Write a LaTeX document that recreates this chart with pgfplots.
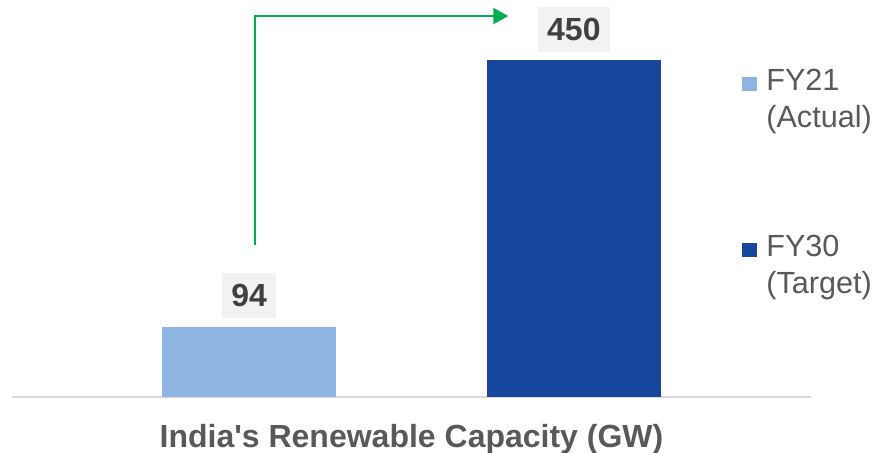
\documentclass[border=0pt]{standalone}
\usepackage{fontspec}
\setmainfont{Liberation Sans}
\usepackage{pgfplots}
\pgfplotsset{compat=1.18}
\usetikzlibrary{arrows.meta}

\definecolor{fyactual}{HTML}{8EB4E3}
\definecolor{fytarget}{HTML}{17479C}
\definecolor{arrowgreen}{HTML}{00B050}
\definecolor{labelbg}{HTML}{F2F2F2}
\definecolor{labeltext}{HTML}{404040}
\definecolor{softtext}{HTML}{595959}
\definecolor{baseline}{HTML}{D9D9D9}

\begin{document}
\begin{tikzpicture}
  \useasboundingbox (0,0) rectangle (439.5pt,226.5pt);
  \begin{axis}[
      at={(6pt,28pt)}, anchor=south west,
      scale only axis,
      width=399.5pt, height=168.5pt,
      xmin=-0.73, xmax=1.73,
      ymin=0, ymax=450,
      axis x line*=bottom,
      axis y line=none,
      x axis line style={-, draw=baseline, line width=0.75pt},
      xtick=\empty, ytick=\empty,
      clip=false,
      bar width=87pt,
      /pgf/number format/assume math mode=true,
      nodes near coords,
      every node near coord/.append style={
          font=\fontsize{16}{19}\selectfont\bfseries,
          text=labeltext, fill=labelbg,
          anchor=south, yshift=4pt,
          inner xsep=4.5pt, inner ysep=0pt, minimum height=22.5pt},
      xlabel={India\textquotesingle s Renewable Capacity (GW)},
      xlabel style={font=\fontsize{16}{19}\selectfont\bfseries, text=softtext,
          anchor=base, at={(axis description cs:0.5,0)}, yshift=-25.5pt},
      legend style={at={(axis description cs:0.9136,0.974)}, anchor=north west,
          draw=none, fill=none, inner sep=0pt,
          font=\fontsize{15.3}{18.5}\selectfont, text=softtext,
          nodes={align=left, inner sep=0pt},
          row sep=52.5pt,
          /tikz/every odd column/.append style={column sep=4.5pt}},
      legend image code/.code={\fill[#1] (0pt,4.5pt) rectangle (7.5pt,11.5pt);},
    ]
    \addplot[ybar, bar shift=0pt, fill=fyactual, draw=none] coordinates {(0,94)};
    \addlegendentry{FY21\\(Actual)}
    \addplot[ybar, bar shift=0pt, fill=fytarget, draw=none] coordinates {(1,450)};
    \addlegendentry{FY30\\(Target)}

    % growth arrow from FY21 to FY30
    \draw[arrowgreen, line width=1.1pt, -{Triangle[length=7.5pt, width=8pt]}]
      (axis cs:0.0185,203) |- (axis cs:0.798,508.7);
  \end{axis}
\end{tikzpicture}
\end{document}
